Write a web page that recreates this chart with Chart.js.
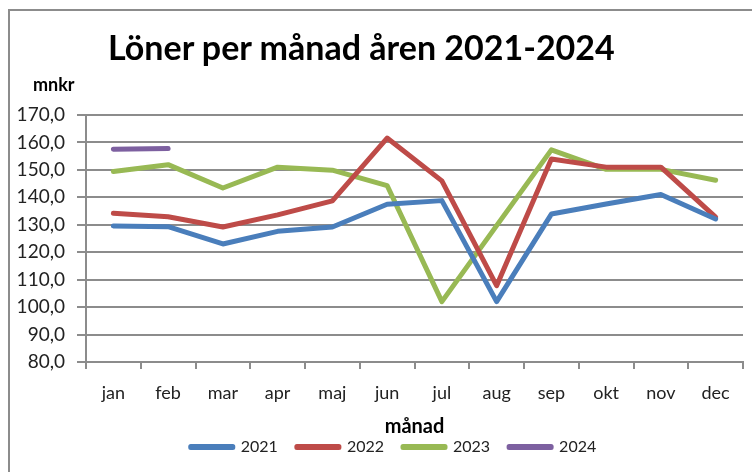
<!DOCTYPE html>
<html>
<head>
<meta charset="utf-8">
<script src="https://cdn.jsdelivr.net/npm/chart.js@4"></script>
<style>
  html, body { margin: 0; padding: 0; background: #fff; }
  #wrap { position: relative; width: 752px; height: 472px; overflow: hidden; }
  #frame { position: absolute; left: 8px; top: 9px; width: 800px; height: 500px;
           border-left: 2px solid #8c8c8c; border-top: 2px solid #8c8c8c; }
  #title { position: absolute; left: 108px; top: 26px; font: bold 34px Lato, sans-serif; color: #000; white-space: nowrap; }
  #unit { position: absolute; left: 33px; top: 73px; font: bold 18px Lato, sans-serif; color: #000; }
  canvas { position: absolute; left: 0; top: 0; }
</style>
</head>
<body>
<div id="wrap">
  <div id="frame"></div>
  <canvas id="chart" width="752" height="472"></canvas>
  <div id="title">Löner per månad åren 2021-2024</div>
  <div id="unit">mnkr</div>
</div>
<script>
// Löner per månad, mnkr
const months = ['jan', 'feb', 'mar', 'apr', 'maj', 'jun', 'jul', 'aug', 'sep', 'okt', 'nov', 'dec'];
const years = ['2021', '2022', '2023', '2024'];
const loner2021 = [129.6, 129.3, 123.0, 127.6, 129.2, 137.5, 138.8, 102.0, 133.9, 137.6, 141.0, 132.1];
const loner2022 = [134.2, 132.9, 129.2, 133.6, 138.7, 161.6, 146.0, 107.8, 154.0, 151.0, 151.0, 132.8];
const loner2023 = [149.4, 151.9, 143.4, 151.0, 149.9, 144.3, 102.0, 129.7, 157.3, 150.2, 150.2, 146.2];
const loner2024 = [157.5, 157.8, null, null, null, null, null, null, null, null, null, null];
const yTicks = { min: 80, max: 170, step: 10 };

const colors = ['#4a7ebb', '#be4b48', '#98b954', '#7d60a0'];
const series = [loner2021, loner2022, loner2023, loner2024];

// Excel puts the legend a bit right of the canvas centre
const legendShift = {
  id: 'legendShift',
  afterLayout(chart) {
    const lg = chart.legend;
    if (!lg) return;
    lg.left += 22;
    lg.right += 22;
  }
};

(function () {
  const ctx = document.getElementById('chart');
  const font = 'Lato, sans-serif';

  new Chart(ctx, {
    type: 'line',
    data: {
      labels: months,
      datasets: series.map((data, i) => ({
        label: years[i],
        data: data,
        borderColor: colors[i],
        backgroundColor: colors[i],
        borderWidth: 5,
        borderCapStyle: 'round',
        borderJoinStyle: 'round',
        pointRadius: 0,
        tension: 0,
        spanGaps: false
      }))
    },
    plugins: [legendShift],
    options: {
      responsive: false,
      animation: false,
      layout: { padding: { top: 115, right: 9, left: 0, bottom: 7 } },
      plugins: {
        title: { display: false },
        tooltip: { enabled: false },
        legend: {
          position: 'bottom',
          labels: {
            color: '#222',
            font: { family: font, size: 16 },
            boxWidth: 42,
            boxHeight: 1,
            padding: 19
          }
        }
      },
      scales: {
        x: {
          offset: true,
          grid: { offset: true, drawOnChartArea: false, drawTicks: true, tickLength: 7, color: '#8c8c8c', lineWidth: 2 },
          border: { color: '#8c8c8c', width: 2 },
          ticks: { color: '#222', font: { family: font, size: 18 }, padding: 13, maxRotation: 0 },
          title: { display: true, text: 'månad', color: '#000', font: { family: font, size: 20, weight: 'bold' }, padding: { top: 0, bottom: -19 } },
          afterFit: (s) => { s.height = 58; }
        },
        y: {
          min: yTicks.min,
          max: yTicks.max,
          grid: { color: '#8c8c8c', lineWidth: 2, tickLength: 9 },
          border: { color: '#8c8c8c', width: 2 },
          ticks: {
            stepSize: yTicks.step,
            color: '#222',
            font: { family: font, size: 19 },
            padding: 12,
            callback: (v) => v.toFixed(1).replace('.', ',')
          },
          afterFit: (s) => { s.width = 86; }
        }
      }
    }
  });
})();
</script>
</body>
</html>
